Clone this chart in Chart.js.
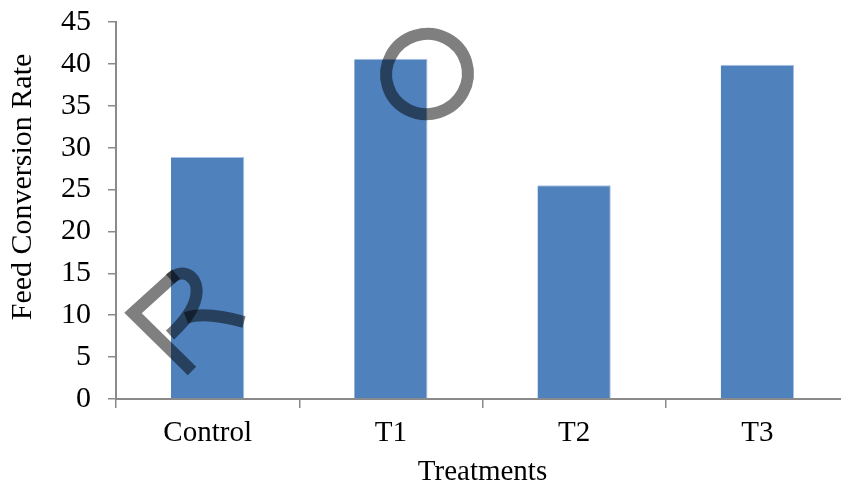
<!DOCTYPE html>
<html>
<head>
<meta charset="utf-8">
<script src="https://cdn.jsdelivr.net/npm/chart.js@4.4.1/dist/chart.umd.min.js"></script>
<style>
  html, body { margin: 0; padding: 0; background: #fff; overflow: hidden; }
  #wrap { width: 841px; height: 485px; overflow: hidden; position: relative; }
  canvas { display: block; }
</style>
</head>
<body>
<div id="wrap"><canvas id="chart" width="860" height="485"></canvas></div>
<script>
// Feed conversion rate per treatment group
const categories = ['Control', 'T1', 'T2', 'T3'];
const fcrValues = [28.9, 40.6, 25.5, 39.9];
const yTicks = [0, 5, 10, 15, 20, 25, 30, 35, 40, 45];

const FONT = "'Liberation Serif', 'Times New Roman', serif";
const AXIS_GRAY = '#8a8a8a';

// Rotated y-axis caption, placed a little above the plot's mid-height
const yCaption = {
  id: 'yCaption',
  afterDraw(chart) {
    const ctx = chart.ctx;
    ctx.save();
    ctx.translate(23, 187);
    ctx.rotate(-Math.PI / 2);
    ctx.font = '30px ' + FONT;
    ctx.fillStyle = '#000';
    ctx.textAlign = 'center';
    ctx.textBaseline = 'middle';
    ctx.fillText('Feed Conversion Rate', 0, 0);
    ctx.restore();
  }
};

// Hand-drawn translucent letter strokes ("R" and "O") over the plot
const letterStrokes = {
  id: 'letterStrokes',
  afterDraw(chart) {
    const ctx = chart.ctx;
    ctx.save();
    ctx.strokeStyle = 'rgba(0,0,0,0.5)';
    ctx.lineWidth = 12;
    ctx.lineCap = 'butt';
    ctx.lineJoin = 'miter';

    // R: angle, bowl and tail
    ctx.beginPath();
    ctx.moveTo(176, 274);
    ctx.lineTo(133, 313);
    ctx.lineTo(192, 371);
    ctx.stroke();

    ctx.beginPath();
    ctx.moveTo(170, 279);
    ctx.bezierCurveTo(184, 266, 200, 278, 196, 297);
    ctx.bezierCurveTo(193, 312, 182, 324, 170, 335);
    ctx.stroke();

    ctx.beginPath();
    ctx.moveTo(186, 318);
    ctx.quadraticCurveTo(205, 311, 244, 322);
    ctx.stroke();

    // O
    ctx.beginPath();
    ctx.ellipse(427, 74, 41, 40, -0.3, 0, Math.PI * 2);
    ctx.stroke();
    ctx.restore();
  }
};

new Chart(document.getElementById('chart'), {
  type: 'bar',
  data: {
    labels: categories,
    datasets: [{
      data: fcrValues,
      backgroundColor: '#4F81BD',
      borderColor: '#a9c2e6',
      borderWidth: { top: 1, right: 1, bottom: 0, left: 0 },
      borderSkipped: false,
      categoryPercentage: 1.0,
      barPercentage: 0.4
    }]
  },
  options: {
    responsive: false,
    animation: false,
    devicePixelRatio: 1,
    layout: { padding: { top: 22, right: 11, bottom: 0, left: 0 } },
    plugins: {
      legend: { display: false },
      tooltip: { enabled: false }
    },
    scales: {
      x: {
        grid: {
          offset: true,
          drawOnChartArea: false,
          drawTicks: true,
          tickLength: 9,
          color: AXIS_GRAY,
          lineWidth: 1.5
        },
        border: { display: true, color: AXIS_GRAY, width: 2 },
        ticks: {
          color: '#000',
          font: { family: FONT, size: 29 },
          padding: 8,
          maxRotation: 0
        },
        title: {
          display: true,
          text: 'Treatments',
          color: '#000',
          font: { family: FONT, size: 29 },
          padding: { top: 0, bottom: -5 }
        },
        afterFit(scale) {
          scale.height = 86;
          scale.paddingLeft = 0;
          scale.paddingRight = 0;
        }
      },
      y: {
        min: 0,
        max: 45,
        afterBuildTicks(scale) {
          scale.ticks = yTicks.map(v => ({ value: v }));
        },
        grid: {
          drawOnChartArea: false,
          drawTicks: true,
          tickLength: 8,
          color: AXIS_GRAY,
          lineWidth: 1.5
        },
        border: { display: true, color: AXIS_GRAY, width: 2 },
        ticks: {
          color: '#000',
          font: { family: FONT, size: 30 },
          padding: 17
        },
        afterFit(scale) {
          scale.width = 116;
          scale.paddingTop = 0;
          scale.paddingBottom = 0;
        }
      }
    }
  },
  plugins: [yCaption, letterStrokes]
});
</script>
</body>
</html>
